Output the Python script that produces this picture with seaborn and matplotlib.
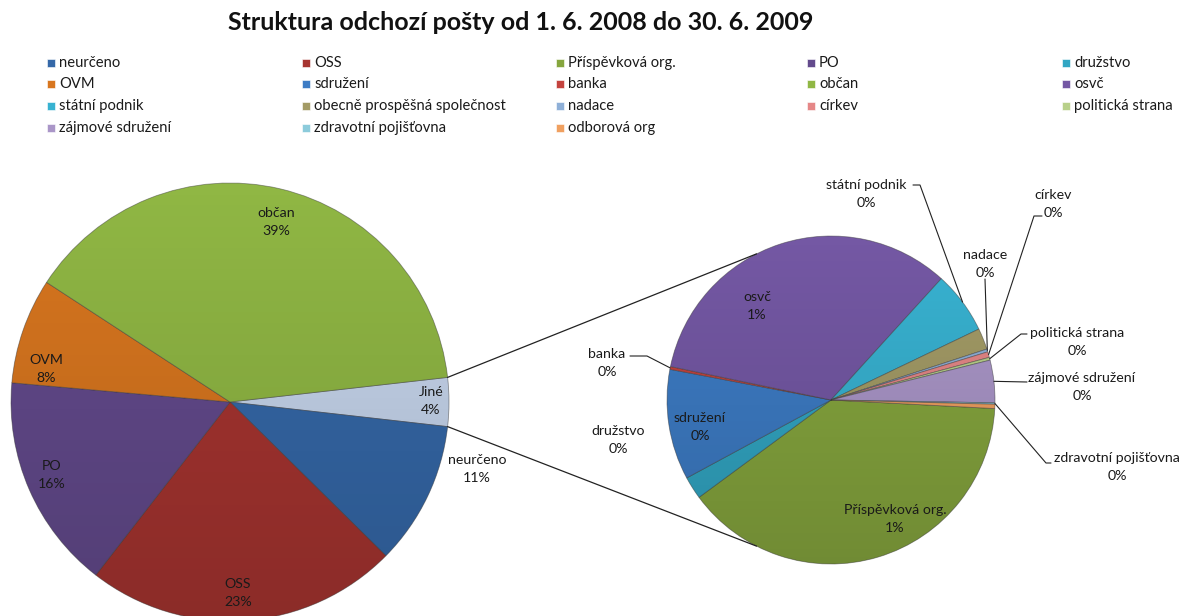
import numpy as np
import pandas as pd
import matplotlib
matplotlib.use("Agg")
import matplotlib.pyplot as plt
import seaborn as sns
from matplotlib.patches import Rectangle, Circle

# ---------------- data ----------------
main_categories = ["neurčeno", "OSS", "PO", "OVM", "občan"]
main_values = [10.6, 23.1, 15.9, 7.8, 39.0]
other_label = "Jiné"
other_categories = ["Příspěvková org.", "družstvo", "sdružení", "banka", "osvč",
                    "státní podnik", "obecně prospěšná společnost", "nadace",
                    "církev", "politická strana", "zájmové sdružení",
                    "zdravotní pojišťovna", "odborová org"]
other_values = [1.40, 0.08, 0.39, 0.01, 1.20, 0.22, 0.075, 0.01, 0.02, 0.01,
                0.15, 0.005, 0.015]
legend_order = ["neurčeno", "OSS", "Příspěvková org.", "PO", "družstvo",
                "OVM", "sdružení", "banka", "občan", "osvč",
                "státní podnik", "obecně prospěšná společnost", "nadace", "církev",
                "politická strana", "zájmové sdružení", "zdravotní pojišťovna",
                "odborová org"]
title = "Struktura odchozí pošty od 1. 6. 2008 do 30. 6. 2009"

# ---------------- style ----------------
sns.set_theme(style="white")
plt.rcParams["font.family"] = ["Lato", "DejaVu Sans"]

colors = {
    "neurčeno": "#3568A8", "OSS": "#A63430", "Příspěvková org.": "#86A63E",
    "PO": "#634A8C", "družstvo": "#32A6C3", "OVM": "#D8761F",
    "sdružení": "#3D7CC5", "banka": "#C4433E", "občan": "#90B744",
    "osvč": "#7458A4", "státní podnik": "#38B2D1",
    "obecně prospěšná společnost": "#A39B66", "nadace": "#8FB0D8",
    "církev": "#E58787", "politická strana": "#B8D08A",
    "zájmové sdružení": "#AA96C8", "zdravotní pojišťovna": "#8CCBDB",
    "odborová org": "#F0A060", "Jiné": "#C6D5EC",
}

W, H = 1182, 616
fig = plt.figure(figsize=(W / 100, H / 100), dpi=100)
ax = fig.add_axes([0, 0, 1, 1])

def P(x, y):
    return (x, H - y)

df_main = pd.DataFrame({"cat": [other_label] + main_categories,
                        "val": [sum(other_values)] + main_values})
df_other = pd.DataFrame({"cat": other_categories, "val": other_values})
total = df_main["val"].sum()

main_c, main_r = P(230, 402), 219
sec_c, sec_r = P(831, 400), 164

jine_angle = df_main["val"].iloc[0] / total * 360
wedge_kw = dict(linewidth=0.6, edgecolor="#3a3a3a80")
w_main, _ = ax.pie(df_main["val"], colors=[colors[c] for c in df_main["cat"]],
                   startangle=jine_angle / 2, counterclock=False,
                   center=main_c, radius=main_r, wedgeprops=wedge_kw)
w_sec, _ = ax.pie(df_other["val"], colors=[colors[c] for c in df_other["cat"]],
                  startangle=-3, counterclock=False,
                  center=sec_c, radius=sec_r, wedgeprops=wedge_kw)

ax.set_xlim(0, W)
ax.set_ylim(0, H)
ax.set_aspect("equal")
ax.axis("off")

# subtle vertical shading (light top, darker bottom) clipped to each pie
grad = np.linspace(0, 1, 256).reshape(-1, 1)
shade = np.zeros((256, 1, 4))
shade[..., 3] = (grad * 0.16)[:, :]
for c, r in ((main_c, main_r), (sec_c, sec_r)):
    im = ax.imshow(shade, extent=(c[0] - r, c[0] + r, c[1] - r, c[1] + r),
                   origin="upper", aspect="auto", zorder=3)
    clip = Circle(c, r, transform=ax.transData)
    im.set_clip_path(clip)
ax.set_xlim(0, W)
ax.set_ylim(0, H)

def edge_point(center, r, wedge):
    a = np.deg2rad((wedge.theta1 + wedge.theta2) / 2)
    return center[0] + r * np.cos(a), center[1] + r * np.sin(a)

# connector lines between Jiné slice and secondary pie
for sgn in (1, -1):
    a1 = np.deg2rad(sgn * jine_angle / 2)
    a2 = np.deg2rad(sgn * 117)
    ax.plot([main_c[0] + main_r * np.cos(a1), sec_c[0] + sec_r * np.cos(a2)],
            [main_c[1] + main_r * np.sin(a1), sec_c[1] + sec_r * np.sin(a2)],
            color="#222222", lw=0.9, zorder=4)

lab_fs = 10.2
txt_col = "#1a1a1a"

def pct(v):
    return f"{int(round(v / total * 100))}%"

main_lab_pos = {"občan": (276, 222), "OVM": (46, 369), "PO": (52, 475),
                "OSS": (238, 593), "Jiné": (431, 401), "neurčeno": (477, 469)}
for cat, val in zip(df_main["cat"], df_main["val"]):
    x, y = P(*main_lab_pos[cat])
    ax.text(x, y, f"{cat}\n{pct(val)}", ha="center", va="center",
            fontsize=lab_fs, color=txt_col, linespacing=1.6, zorder=5)

sec_lab_pos = {"osvč": (757, 306), "sdružení": (700, 427),
               "Příspěvková org.": (895, 519), "družstvo": (618, 440),
               "banka": (607, 363), "státní podnik": (866, 194),
               "nadace": (985, 264), "církev": (1053, 204),
               "politická strana": (1077, 342), "zájmové sdružení": (1082, 387),
               "zdravotní pojišťovna": (1117, 467)}
leaders = {"banka": [(647, 356), (630, 356)],
           "státní podnik": [(920, 185), (913, 185)],
           "nadace": [(985, 279)],
           "církev": [(1034, 216), (1042, 216)],
           "politická strana": [(1021, 334), (1027, 334)],
           "zájmové sdružení": [(1027, 382)],
           "zdravotní pojišťovna": [(1046, 463), (1051, 463)]}
for w, cat, val in zip(w_sec, df_other["cat"], df_other["val"]):
    if cat not in sec_lab_pos:
        continue
    x, y = P(*sec_lab_pos[cat])
    ax.text(x, y, f"{cat}\n{pct(val)}", ha="center", va="center",
            fontsize=lab_fs, color=txt_col, linespacing=1.6, zorder=5)
    if cat in leaders:
        ex, ey = edge_point(sec_c, sec_r, w)
        pts = [(ex, ey)] + [P(*p) for p in leaders[cat]]
        ax.plot([p[0] for p in pts], [p[1] for p in pts], color="#222222",
                lw=0.8, zorder=4)

# legend (row-wise, 5 columns)
col_x = [47, 302, 556, 807, 1062]
row_y = [63, 84, 106, 128]
for i, cat in enumerate(legend_order):
    cx, ry = col_x[i % 5], row_y[i // 5]
    x0, y0 = P(cx, ry + 4)
    ax.add_patch(Rectangle((x0, y0), 8, 8, facecolor=colors[cat],
                           edgecolor="#ffffff", lw=0.4))
    tx, ty = P(cx + 12, ry)
    ax.text(tx, ty, cat, ha="left", va="center", fontsize=10.6, color=txt_col)

tx, ty = P(521, 22)
ax.text(tx, ty, title, ha="center", va="center", fontsize=18,
        fontweight="bold", color="#111111")

fig.savefig("out.png", dpi=100, facecolor="white")
